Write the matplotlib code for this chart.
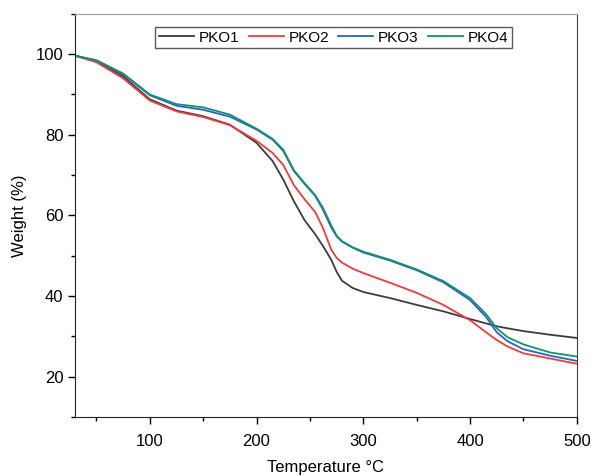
import numpy as np
import matplotlib.pyplot as plt
from matplotlib.ticker import MultipleLocator

plt.rcParams['font.family'] = ['Liberation Sans', 'DejaVu Sans']

# temperature grid (deg C)
temp = [30, 50, 75, 100, 125, 150, 175, 200, 215, 225, 235, 245, 255, 262,
        270, 275, 280, 290, 300, 325, 350, 375, 400, 415, 425, 435, 450, 475, 500]

pko1 = [99.6, 98.3, 94.5, 88.8, 86.0, 84.6, 82.5, 78.0, 73.5, 68.9, 63.5, 58.8, 55.3, 52.5,
        49.0, 46.0, 43.8, 42.0, 41.0, 39.5, 37.8, 36.2, 34.3, 33.2, 32.5, 32.0, 31.3, 30.4, 29.6]
pko2 = [99.6, 98.0, 94.0, 88.5, 85.8, 84.4, 82.4, 78.5, 75.5, 72.5, 67.5, 64.0, 60.8, 57.0,
        51.5, 49.5, 48.3, 46.8, 45.7, 43.3, 40.8, 37.8, 34.0, 31.0, 29.1, 27.5, 25.8, 24.5, 23.2]
pko3 = [99.6, 98.4, 95.0, 89.8, 87.2, 86.2, 84.5, 81.3, 78.8, 76.0, 71.0, 67.8, 64.8, 61.5,
        57.0, 54.8, 53.5, 52.0, 50.8, 48.8, 46.4, 43.4, 39.0, 34.8, 31.0, 28.8, 26.8, 25.2, 23.9]
pko4 = [99.6, 98.5, 95.2, 90.0, 87.6, 86.8, 85.0, 81.5, 79.0, 76.3, 71.2, 68.0, 65.0, 62.0,
        57.5, 55.0, 53.6, 52.1, 51.0, 49.0, 46.6, 43.7, 39.5, 35.5, 32.0, 29.8, 28.0, 26.0, 25.0]

labels = ['PKO1', 'PKO2', 'PKO3', 'PKO4']
colors = ['#3c3c3c', '#f23a3a', '#2563d0', '#14936a']

fig = plt.figure(figsize=(5.91, 4.76), dpi=100)
ax = fig.add_axes([0.127, 0.124, 0.849, 0.847])

for y, lab, c in zip([pko1, pko2, pko3, pko4], labels, colors):
    ax.plot(temp, y, color=c, lw=1.3, label=lab)

ax.set_xlim(30, 500)
ax.set_ylim(10, 110)
ax.xaxis.set_major_locator(MultipleLocator(100))
ax.xaxis.set_minor_locator(MultipleLocator(50))
ax.yaxis.set_major_locator(MultipleLocator(20))
ax.yaxis.set_minor_locator(MultipleLocator(10))
ax.tick_params(which='major', direction='out', length=5, width=1, labelsize=12,
               top=False, right=False)
ax.tick_params(which='minor', direction='out', length=3, width=1,
               top=False, right=False)
ax.tick_params(axis='x', which='major', pad=7)
ax.spines['top'].set_color('#a0a0a0')
ax.spines['right'].set_color('#404040')
for s in ['left', 'bottom']:
    ax.spines[s].set_color('#202020')

ax.set_xlabel('Temperature °C', fontsize=12, labelpad=8)
ax.set_ylabel('Weight (%)', fontsize=12, labelpad=6)

leg = ax.legend(loc='upper center', bbox_to_anchor=(0.515, 0.968), ncol=4,
                fontsize=11, frameon=True, fancybox=False, borderaxespad=0,
                handlelength=2.3, columnspacing=0.6, handletextpad=0.3,
                borderpad=0.25)
leg.get_frame().set_edgecolor('#303030')
leg.get_frame().set_linewidth(1.0)

fig.savefig('out.png', dpi=100)
